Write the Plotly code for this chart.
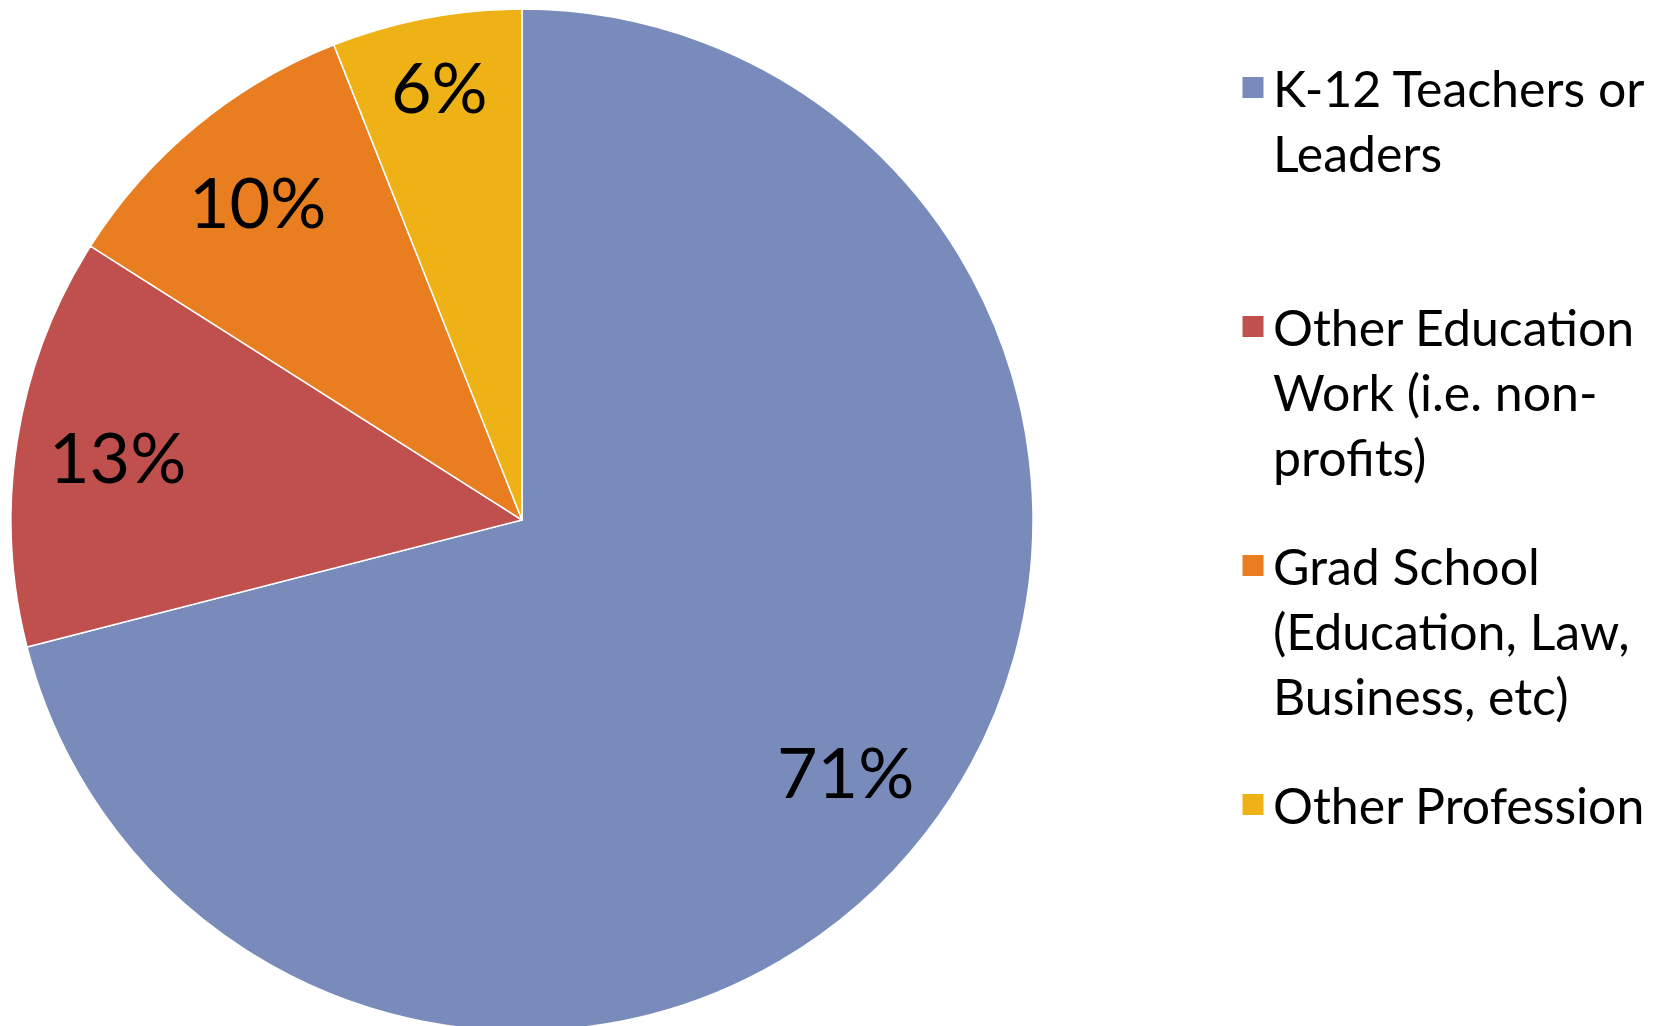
"""
Career paths pie chart (share of respondents by current occupation).
"""

import math
import plotly.graph_objects as go

categories = [
    "K-12 Teachers or Leaders",
    "Other Education Work (i.e. non-profits)",
    "Grad School (Education, Law, Business, etc)",
    "Other Profession",
]
# legend text, wrapped the way the original legend wraps it
legend_labels = [
    "K-12 Teachers or<br>Leaders<br>\u00a0",
    "Other Education<br>Work (i.e. non-<br>profits)",
    "Grad School<br>(Education, Law,<br>Business, etc)",
    "Other Profession",
]
shares = [71, 13, 10, 6]
colors = ["#788BBB", "#C0504D", "#E87E1F", "#EEB216"]

W, H = 1670, 1026
PAGE = 8          # default body margin of the html page
FONT = "Lato, 'Open Sans', sans-serif"
LEG_SIZE = 50
LBL_SIZE = 70

# pie geometry in figure pixels
cx, cy, r = 522 - PAGE, 520 - PAGE, 511

fig = go.Figure()

fig.add_trace(go.Pie(
    labels=categories,
    values=shares,
    sort=False,
    direction="clockwise",
    rotation=0,
    marker=dict(colors=colors, line=dict(color="white", width=1.5)),
    textinfo="none",
    hoverinfo="label+percent",
    showlegend=False,
    domain=dict(x=[(cx - r) / W, (cx + r) / W],
                y=[1 - (cy + r) / H, 1 - (cy - r) / H]),
))

# legend entries (bigger squares than the pie's own legend swatches)
for i, (lab, col) in enumerate(zip(legend_labels, colors)):
    fig.add_trace(go.Scatter(
        x=[None], y=[None], mode="markers", name=lab,
        legendgroup=f"g{i}",
        marker=dict(symbol="square", size=16, color=col,
                    line=dict(color=col, width=5)),
        hoverinfo="skip",
    ))

# percentage labels: "best fit" style, label box pushed out until its
# outer edge sits near the rim of the slice
total = sum(shares)
cum = 0
annotations = []
for v in shares:
    theta = 2 * math.pi * (cum + v / 2) / total
    cum += v
    txt = f"{round(100 * v / total)}%"
    hw = 0.5 * LBL_SIZE * (0.56 * (len(txt) - 1) + 0.8)
    hh = 30
    dist = 0.94 * r - (hw * abs(math.sin(theta)) + hh * abs(math.cos(theta)))
    px = cx + dist * math.sin(theta)
    py = cy - dist * math.cos(theta)
    annotations.append(dict(
        x=px / W, y=1 - py / H, xref="paper", yref="paper",
        text=txt, showarrow=False,
        font=dict(size=LBL_SIZE, color="black", family=FONT),
        xanchor="center", yanchor="middle",
    ))

L = 1.3 * LEG_SIZE
fig.update_layout(
    width=W, height=H,
    margin=dict(l=0, r=0, t=0, b=0),
    paper_bgcolor="white",
    plot_bgcolor="white",
    font=dict(family=FONT, color="black"),
    xaxis=dict(visible=False),
    yaxis=dict(visible=False),
    showlegend=True,
    legend=dict(
        x=(1233 - PAGE) / W,
        y=1 - (107 - PAGE - 6.5 - 0.8 * L) / H,
        xanchor="left", yanchor="top",
        font=dict(size=LEG_SIZE, color="black", family=FONT),
        traceorder="grouped",
        tracegroupgap=239 - (3 * L + 3),
        valign="top",
        bgcolor="rgba(0,0,0,0)",
    ),
    annotations=annotations,
)

fig.write_html("out.html")
